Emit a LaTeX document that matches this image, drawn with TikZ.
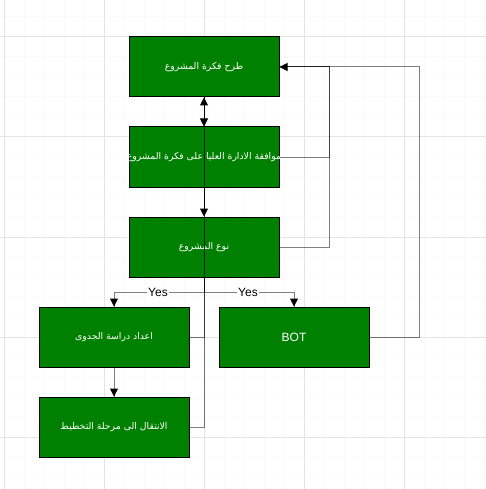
\documentclass[tikz,border=0pt]{standalone}
\usepackage{fontspec}
\setmainfont{Liberation Sans}
\newfontfamily\arabicfont[Script=Arabic]{DejaVu Sans}
\TeXXeTstate=1
\usetikzlibrary{arrows.meta,calc}
\definecolor{boxgreen}{RGB}{0,128,0}
\definecolor{gridmajor}{RGB}{228,228,228}
\definecolor{gridminor}{RGB}{253,248,251}
\tikzset{
  stepbox/.style={draw=black, line width=1pt, fill=boxgreen, minimum width=150pt, minimum height=60pt, inner sep=0pt, text=white, font=\fontsize{9.3}{11}\selectfont\arabicfont},
  blackedge/.style={draw=black, line width=1pt, -{Triangle[length=8pt,width=8pt]}},
  greyedge/.style={draw=black, draw opacity=0.5, line width=1pt},
  tipend/.style={draw=black, line width=1pt, -{Triangle[length=8pt,width=8pt]}},
  yeslabel/.style={fill=white, inner sep=1pt, font=\fontsize{12}{14}\selectfont, text=black}
}
\newcommand{\artxt}[1]{\makebox[0pt][c]{\beginR #1\endR}}
\begin{document}
\begin{tikzpicture}[x=1pt,y=-1pt]
\useasboundingbox (0,0) rectangle (486,489);
\fill[white] (0,0) rectangle (486,489);
% grid
\foreach \gx in {4,24,...,484} {\draw[gridminor, line width=1pt] (\gx,0) -- (\gx,489);}
\foreach \gy in {-3,17,...,489} {\draw[gridminor, line width=1pt] (0,\gy) -- (486,\gy);}
\foreach \gx in {4,104,...,404} {\draw[gridmajor, line width=1pt] (\gx,0) -- (\gx,489);}
\foreach \gy in {37,137,...,437} {\draw[gridmajor, line width=1pt] (0,\gy) -- (486,\gy);}
% boxes
\node[stepbox] (b1) at (204,67) {\artxt{طرح فكرة المشروع}};
\node[stepbox] (b2) at (204,157) {\artxt{موافقة الادارة العليا على فكرة المشروع}};
\node[stepbox] (b3) at (204,247) {\artxt{نوع المشروع}};
\node[stepbox] (b4) at (114,337) {\artxt{اعداد دراسة الجدوى}};
\node[stepbox, font=\fontsize{12}{14}\selectfont] (bot) at (294,337) {BOT};
\node[stepbox] (b6) at (114,427) {\artxt{الانتقال الى مرحلة التخطيط}};
% helper coordinates
\coordinate (xr) at (329,0);
\coordinate (xrr) at (419,0);
\coordinate (yy) at (0,292);
% black edges
\draw[blackedge] (b1.south) -- (b2.north);
\draw[blackedge] (b2.south) -- (b3.north);
% grey edges
\draw[greyedge] (b4.east) -| (b1.south);
\draw[greyedge] (b6.east) -| (b1.south);
\draw[greyedge] (b2.east) -| (xr |- b1.east) -- (b1.east);
\draw[greyedge] (b3.east) -| (xr |- b1.east) -- (b1.east);
\draw[greyedge] (bot.east) -| (xrr |- b1.east) -- (b1.east);
\draw[greyedge] (b3.south) -- (b3.south |- yy) -| (b4.north);
\draw[greyedge] (b3.south) -- (b3.south |- yy) -| (bot.north);
\draw[greyedge] (b4.south) -- (b6.north);
% arrow tips
\draw[tipend] ($(b1.south)+(0,1)$) -- (b1.south);
\draw[tipend] ($(b1.east)+(1,0)$) -- (b1.east);
\draw[tipend] ($(b4.north)+(0,-1)$) -- (b4.north);
\draw[tipend] ($(bot.north)+(0,-1)$) -- (bot.north);
\draw[tipend] ($(b6.north)+(0,-1)$) -- (b6.north);
% labels
\node[yeslabel] (yes1) at (158,292) {Yes};
\node[yeslabel] (yes2) at (248,292) {Yes};
\end{tikzpicture}
\end{document}
